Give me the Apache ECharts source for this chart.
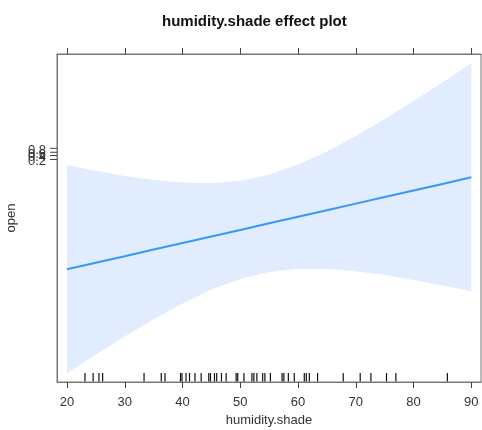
<!DOCTYPE html>
<html>
<head>
<meta charset="utf-8">
<title>humidity.shade effect plot</title>
<script src="https://cdn.jsdelivr.net/npm/echarts@6.0.0/dist/echarts.min.js"></script>
<style>
	html, body { margin: 0; padding: 0; background: #fff; }
	#effect { width: 482px; height: 430px; }
</style>
</head>
<body>
<div id="effect"></div>
<script>
// humidity.shade values
var humidity = [20, 25, 30, 35, 40, 45, 50, 55, 60, 65, 70, 75, 80, 85, 90];
// fitted value (linear predictor, logit scale)
var fitLine = [-28.57, -26.94, -25.33, -23.69, -22.06, -20.43, -18.82, -17.18, -15.55, -13.94, -12.31, -10.67, -9.06, -7.43, -5.79];
// confidence band
var bandLower = [-54.32, -49.69, -45.21, -40.95, -37.02, -33.60, -30.95, -29.22, -28.45, -28.50, -29.07, -30.01, -31.22, -32.56, -34.02];
var bandUpper = [-2.82, -4.18, -5.45, -6.44, -7.11, -7.25, -6.68, -5.15, -2.65, 0.62, 4.46, 8.67, 13.10, 17.70, 22.43];
// rug of observed humidity.shade
var rugX = [23.11, 24.53, 25.53, 26.17, 33.34, 36.32, 36.97, 39.65, 39.91, 40.60, 41.21, 42.16, 43.23, 44.54, 44.84,
	45.53, 45.92, 46.74, 47.55, 49.28, 49.55, 50.63, 52.01, 52.35, 52.87, 53.87, 54.26, 55.21, 57.23, 57.54,
	58.32, 59.35, 61.08, 61.43, 61.95, 63.38, 67.82, 70.76, 72.61, 75.31, 76.93, 85.85];
// axis ticks
var xTicks = [20, 30, 40, 50, 60, 70, 80, 90];
var yTickLabels = ['0.2', '0.4', '0.6', '0.8'];
var yTickValues = [-1.386, -0.405, 0.405, 1.386];

(function() {
	'use strict';
	var font = 'Liberation Sans, Arial, Helvetica, sans-serif';
	var xMin = 18.27, xMax = 91.67, yMin = -56.48, yMax = 24.74;
	var chart = echarts.init(document.getElementById('effect'));

	var linePts = [];
	for (var i = 0; i < humidity.length; i++) {
		linePts.push([humidity[i], fitLine[i]]);
	}
	var rugData = [];
	for (var j = 0; j < rugX.length; j++) {
		rugData.push([rugX[j]]);
	}
	var yTickData = [];
	for (var t = 0; t < yTickValues.length; t++) {
		yTickData.push([yTickValues[t], yTickLabels[t]]);
	}

	var option = {
		animation: false,
		backgroundColor: '#fff',
		title: {
			text: 'humidity.shade effect plot',
			left: 157,
			top: 9,
			textStyle: { fontFamily: font, fontSize: 15, fontWeight: 'bold', color: '#111' }
		},
		grid: {
			left: 57,
			right: 1,
			top: 54,
			bottom: 48,
			outerBoundsMode: 'none',
			containLabel: false,
			show: true,
			borderColor: '#777',
			borderWidth: 1,
			backgroundColor: 'transparent'
		},
		xAxis: [{
			type: 'value',
			min: xMin,
			max: xMax,
			position: 'bottom',
			name: 'humidity.shade',
			nameLocation: 'middle',
			nameGap: 29,
			nameTextStyle: { fontFamily: font, fontSize: 13, color: '#333' },
			splitLine: { show: false },
			axisLine: { show: true, onZero: false, lineStyle: { color: '#777' } },
			axisTick: { show: true, length: 6, customValues: xTicks, lineStyle: { color: '#444' } },
			axisLabel: { customValues: xTicks, margin: 14, fontFamily: font, fontSize: 13, color: '#333' }
		}, {
			type: 'value',
			min: xMin,
			max: xMax,
			position: 'top',
			splitLine: { show: false },
			axisLine: { show: true, onZero: false, lineStyle: { color: '#777' } },
			axisTick: { show: true, length: 6, customValues: xTicks, lineStyle: { color: '#444' } },
			axisLabel: { show: false }
		}],
		yAxis: {
			type: 'value',
			min: yMin,
			max: yMax,
			name: 'open',
			nameLocation: 'middle',
			nameRotate: 90,
			nameGap: 39,
			nameTextStyle: { fontFamily: font, fontSize: 13, color: '#333' },
			splitLine: { show: false },
			axisLine: { show: true, onZero: false, lineStyle: { color: '#777' } },
			axisTick: { show: false },
			axisLabel: { show: false }
		},
		series: [{
			// confidence band as one polygon
			name: 'band',
			type: 'custom',
			data: [[0]],
			z: 1,
			renderItem: function(params, api) {
				var pts = [];
				for (var a = 0; a < humidity.length; a++) {
					pts.push(api.coord([humidity[a], bandUpper[a]]));
				}
				for (var b = humidity.length - 1; b >= 0; b--) {
					pts.push(api.coord([humidity[b], bandLower[b]]));
				}
				return {
					type: 'polygon',
					shape: { points: pts },
					style: { fill: '#e1ecfe', stroke: null }
				};
			},
			clip: true
		}, {
			name: 'fit',
			type: 'line',
			data: linePts,
			symbol: 'none',
			lineStyle: { color: '#3897f6', width: 2 },
			z: 3
		}, {
			// rug along the bottom
			name: 'rug',
			type: 'custom',
			data: rugData,
			z: 4,
			renderItem: function(params, api) {
				var p = api.coord([api.value(0), yMin]);
				return {
					type: 'line',
					shape: { x1: p[0], y1: p[1] - 0.5, x2: p[0], y2: p[1] - 9 },
					style: { stroke: '#111', lineWidth: 1.2 }
				};
			}
		}, {
			// y ticks with probability labels (they overlap, as in the original)
			name: 'yticks',
			type: 'custom',
			data: yTickData,
			z: 5,
			renderItem: function(params, api) {
				var v = yTickValues[params.dataIndex];
				var p = api.coord([xMin, v]);
				return {
					type: 'group',
					children: [{
						type: 'line',
						shape: { x1: p[0], y1: p[1], x2: p[0] - 7, y2: p[1] },
						style: { stroke: '#444', lineWidth: 1 }
					}, {
						type: 'text',
						x: p[0] - 11,
						y: p[1] + 2,
						style: {
							text: yTickLabels[params.dataIndex],
							fontFamily: font,
							fontSize: 13,
							fill: '#333',
							align: 'right',
							verticalAlign: 'middle'
						}
					}]
				};
			}
		}]
	};
	chart.setOption(option);
	window.onresize = chart.resize;
}());
</script>
</body>
</html>
